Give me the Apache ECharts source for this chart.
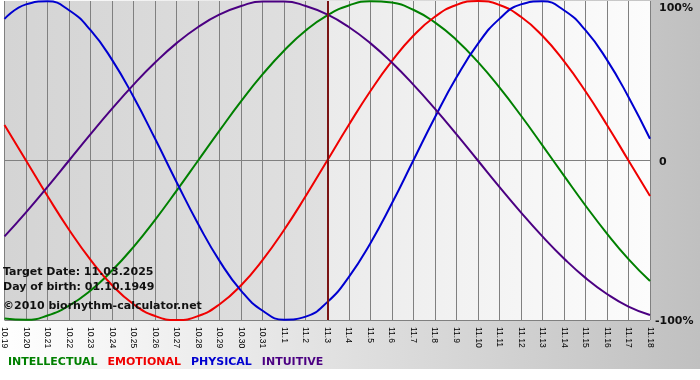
<!DOCTYPE html>
<html>
<head>
<meta charset="utf-8">
<script src="https://cdn.jsdelivr.net/npm/echarts@6/dist/echarts.min.js"></script>
<style>html,body{margin:0;padding:0;background:#fff}#c{width:700px;height:380px}</style>
</head>
<body>
<div id="c"></div>
<script>
var categories = ['10.19','10.20','10.21','10.22','10.23','10.24','10.25','10.26','10.27','10.28','10.29','10.30','10.31',
  '11.1','11.2','11.3','11.4','11.5','11.6','11.7','11.8','11.9','11.10','11.11','11.12','11.13','11.14','11.15','11.16','11.17','11.18'];
var intellectual = [-99.0,-99.9,-97.2,-91.0,-81.5,-69.0,-54.1,-37.2,-18.9,0,18.9,37.2,54.1,69.0,81.5,91.0,97.2,99.9,99.0,94.5,86.6,75.6,61.8,45.8,28.2,9.5,-9.5,-28.2,-45.8,-61.8,-75.6];
var emotional = [22.3,0,-22.3,-43.4,-62.3,-78.2,-90.1,-97.5,-100,-97.5,-90.1,-78.2,-62.3,-43.4,-22.3,0,22.3,43.4,62.3,78.2,90.1,97.5,100,97.5,90.1,78.2,62.3,43.4,22.3,0,-22.3];
var physical = [88.8,97.9,99.8,94.2,81.7,63.1,39.8,13.6,-13.6,-39.8,-63.1,-81.7,-94.2,-99.8,-97.9,-88.8,-73.1,-52.0,-27.0,0,27.0,52.0,73.1,88.8,97.9,99.8,94.2,81.7,63.1,39.8,13.6];
var intuitive = [-47.6,-32.5,-16.5,0,16.5,32.5,47.6,61.4,73.6,83.7,91.6,96.9,99.7,99.7,96.9,91.6,83.7,73.6,61.4,47.6,32.5,16.5,0,-16.5,-32.5,-47.6,-61.4,-73.6,-83.7,-91.6,-96.9];
var yTicks = [-100, 0, 100];
var targetDay = '11.3';
var infoLines = ['Target Date: 11.03.2025', 'Day of birth: 01.10.1949', '\u00a92010 biorhythm-calculator.net'];
var names = ['INTELLECTUAL','EMOTIONAL','PHYSICAL','INTUITIVE'];
var colors = ['#008000','#f00000','#0000d0','#4b0082'];

var chart = echarts.init(document.getElementById('c'));
var LG = echarts.graphic.LinearGradient;
var bold = 'bold 11px "DejaVu Sans"';

function lineSeries(i, data) {
  return {
    name: names[i], type: 'line', data: data, smooth: true, showSymbol: false, symbol: 'none',
    lineStyle: {color: colors[i], width: 2}, itemStyle: {color: colors[i]}, z: 3, silent: true
  };
}

var series = [
  {
    name: 'bg', type: 'line', data: emotional, z: -1, silent: true, showSymbol: false, symbol: 'none',
    lineStyle: {opacity: 0},
    markArea: {
      silent: true, z: -1,
      data: [
        [{xAxis: categories[0], itemStyle: {color: new LG(0,0,1,0,[{offset:0,color:'#d4d4d4'},{offset:1,color:'#e0e0e0'}])}}, {xAxis: targetDay}],
        [{xAxis: targetDay, itemStyle: {color: new LG(0,0,1,0,[{offset:0,color:'#ebebeb'},{offset:1,color:'#fcfcfc'}])}}, {xAxis: categories[categories.length-1]}]
      ]
    }
  },
  lineSeries(0, intellectual),
  lineSeries(1, emotional),
  lineSeries(2, physical),
  lineSeries(3, intuitive)
];
series[4].markLine = {
  silent: true, symbol: 'none', label: {show: false},
  lineStyle: {color: '#7a1414', width: 2, type: 'solid'},
  data: [{xAxis: targetDay}]
};
series[4].z = 4;

var graphics = [
  {type: 'rect', left: 0, bottom: 0, shape: {width: 700, height: 11}, style: {fill: '#ffffff'}, z: -5}
];
var infoY = [272, 287, 306];
infoLines.forEach(function (t, k) {
  graphics.push({type: 'text', x: 3, y: infoY[k], z: 10,
    style: {text: t, font: bold, fill: '#111', verticalAlign: 'middle', textVerticalAlign: 'middle'}});
});

chart.setOption({
  backgroundColor: new LG(0,0,1,0,[{offset:0,color:'#ffffff'},{offset:1,color:'#c0c0c0'}]),
  animation: false,
  grid: {left: 0, right: 50, top: 1, bottom: 60, containLabel: false},
  legend: {
    left: -2, top: 352, icon: 'none', itemWidth: 0, itemHeight: 10, itemGap: 5,
    textStyle: {fontFamily: 'DejaVu Sans', fontWeight: 'bold', fontSize: 11},
    selectedMode: false,
    data: names.map(function (n, i) { return {name: n, textStyle: {color: colors[i]}}; })
  },
  xAxis: {
    type: 'category', data: categories, boundaryGap: false,
    axisLine: {show: true, lineStyle: {color: '#808080', width: 1}},
    axisTick: {show: true, interval: 0, length: 5, lineStyle: {color: '#808080'}},
    splitLine: {show: true, interval: 0, lineStyle: {color: '#808080', width: 1}},
    axisLabel: {interval: 0, rotate: -90, margin: 7, color: '#000', fontFamily: 'Liberation Sans', fontSize: 8.5}
  },
  yAxis: {
    type: 'value', position: 'right', min: -100, max: 100, interval: 100,
    axisLine: {show: false}, axisTick: {show: false},
    splitLine: {show: true, lineStyle: {color: ['#808080', '#808080', 'rgba(0,0,0,0)'], width: 1}},
    axisLabel: {
      margin: 5, align: 'left', color: '#111', fontFamily: 'DejaVu Sans', fontWeight: 'bold', fontSize: 11,
      formatter: function (v) {
        if (v === yTicks[2]) return '{t|' + v + '%}';
        if (v === yTicks[1]) return '{z|0}';
        return '{n|' + v + '%}';
      },
      rich: {
        t: {padding: [14, 0, 0, 4], fontFamily: 'DejaVu Sans', fontWeight: 'bold', fontSize: 11, color: '#111'},
        z: {padding: [3, 0, 0, 4], fontFamily: 'DejaVu Sans', fontWeight: 'bold', fontSize: 11, color: '#111'},
        n: {padding: [3, 0, 0, 0], fontFamily: 'DejaVu Sans', fontWeight: 'bold', fontSize: 11, color: '#111'}
      }
    }
  },
  graphic: graphics,
  series: series
});
</script>
</body>
</html>
